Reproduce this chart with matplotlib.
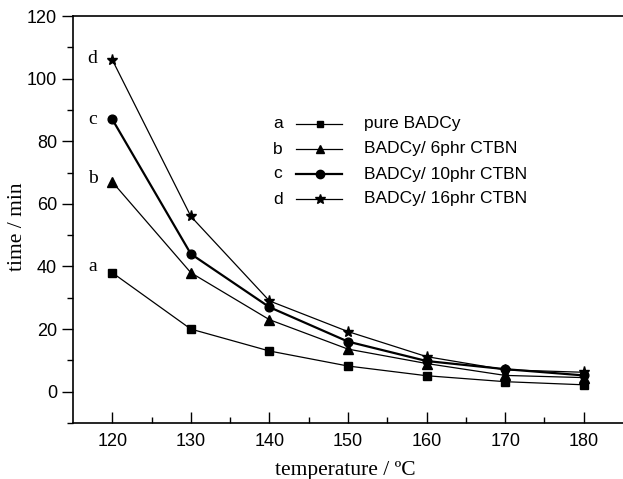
import matplotlib
matplotlib.use("Agg")
import matplotlib.pyplot as plt
from matplotlib.lines import Line2D

temps = [120, 130, 140, 150, 160, 170, 180]
a_vals = [38, 20, 13, 8.2, 5.1, 3.2, 2.2]
b_vals = [67, 38, 23, 13.6, 9, 5.2, 4.5]
c_vals = [87, 44, 27, 16, 9.8, 7.2, 5.2]
d_vals = [106, 56, 29, 19.2, 11.2, 7, 6.2]
letters = ["a", "b", "c", "d"]
names = ["pure BADCy", "BADCy/ 6phr CTBN", "BADCy/ 10phr CTBN", "BADCy/ 16phr CTBN"]
series = [a_vals, b_vals, c_vals, d_vals]
markers = ["s", "^", "o", "*"]
msizes = [5.2, 6.5, 6.3, 8]
leg_msizes = [4.5, 6, 6, 7.5]
lwidths = [0.9, 0.9, 1.6, 0.9]

fig = plt.figure(figsize=(6.23, 4.79), dpi=100)
ax = fig.add_axes([73/623, 1-423/479, 550/623, (423-16)/479])

for vals, m, ms, lw in zip(series, markers, msizes, lwidths):
    ax.plot(temps, vals, color="black", marker=m, markersize=ms, linewidth=lw,
            markeredgecolor="black", markerfacecolor="black")

# curve letters
offs = [2, 1, 0, 0.5]
for let, vals, o in zip(letters, series, offs):
    ax.text(117.5, vals[0] + o, let, family="Liberation Serif", fontsize=14,
            ha="center", va="center")

ax.set_xlim(115, 185)
ax.set_ylim(-10, 120)
ax.set_xticks([120, 130, 140, 150, 160, 170, 180])
ax.set_xticks([125, 135, 145, 155, 165, 175], minor=True)
ax.set_yticks([0, 20, 40, 60, 80, 100, 120])
ax.set_yticks([-10, 10, 30, 50, 70, 90, 110], minor=True)
ax.tick_params(axis="x", which="major", direction="in", length=8, width=1, pad=7)
ax.tick_params(axis="x", which="minor", direction="in", length=4, width=1)
ax.tick_params(axis="y", which="major", direction="out", length=8, width=1)
ax.tick_params(axis="y", which="minor", direction="out", length=4, width=1)
for lab in ax.get_xticklabels() + ax.get_yticklabels():
    lab.set_family("Liberation Sans")
    lab.set_fontsize(13)
ax.spines["right"].set_visible(False)
for s in ["left", "bottom", "top"]:
    ax.spines[s].set_linewidth(1.2)

fig.text(345/623, 1-470/479, "temperature / ºC", family="Liberation Serif",
         fontsize=15.5, ha="center", va="center")
fig.text(18/623, 1-227/479, "time / min", family="Liberation Serif",
         fontsize=15.5, ha="center", va="center", rotation=90)

# legend
rows_y = [124, 149, 174, 199]
for let, name, m, ms, lw, yp in zip(letters, names, markers, leg_msizes, lwidths, rows_y):
    yf = 1 - yp/479
    fig.text(278/623, yf, let, family="Liberation Sans", fontsize=12.5,
             ha="center", va="center")
    fig.add_artist(Line2D([296/623, 342/623], [yf, yf], color="black", linewidth=lw,
                          transform=fig.transFigure))
    fig.add_artist(Line2D([320/623], [yf], color="black", marker=m, markersize=ms,
                          linestyle="none", transform=fig.transFigure))
    fig.text(364/623, yf, name, family="Liberation Sans", fontsize=12.5,
             ha="left", va="center")

fig.savefig("out.png", dpi=100)
